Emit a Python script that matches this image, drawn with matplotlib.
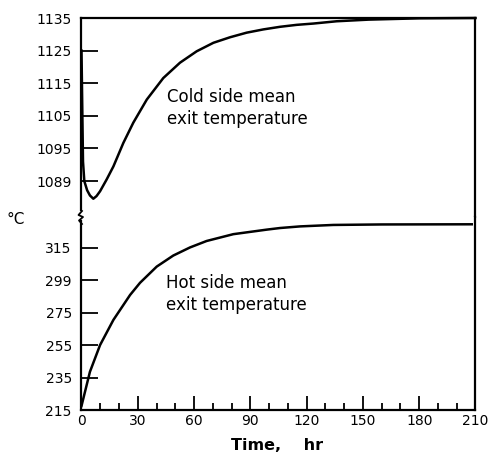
import matplotlib
matplotlib.use("Agg")
import matplotlib.pyplot as plt
from matplotlib.lines import Line2D

# ---- data ----
time_ticks = [0, 30, 60, 90, 120, 150, 180, 210]
time_minor = [10, 20, 40, 50, 70, 80, 100, 110, 130, 140, 160, 170, 190, 200]

upper_ticks = [1085, 1095, 1105, 1115, 1125, 1135]
upper_labels = ["1089", "1095", "1105", "1115", "1125", "1135"]
lower_ticks = [215, 235, 255, 275, 295, 315]
lower_labels = ["215", "235", "255", "275", "299", "315"]

cold_t = [0, 0.4, 0.8, 1.5, 3, 4.5, 6.3, 8, 9.9, 13.4, 17, 22.3, 27.6, 34.8,
          43.6, 52.5, 61.4, 70.3, 79.2, 88, 96.9, 105.8, 114.7, 123.6, 136,
          153, 180, 210]
cold_T = [1125, 1108, 1091, 1085, 1082.2, 1080.6, 1079.6, 1080.4, 1081.9,
          1085.5, 1089.5, 1096.7, 1102.9, 1110.0, 1116.6, 1121.3, 1124.8,
          1127.4, 1129.1, 1130.5, 1131.5, 1132.3, 1132.9, 1133.3, 1134.0,
          1134.5, 1134.9, 1135.0]

hot_t = [0, 1.0, 4.5, 9.9, 17, 25.9, 31.2, 40.1, 48.9, 57.8, 66.7, 80.9,
         98.7, 105.8, 116.5, 134.2, 160, 208]
hot_T = [217.5, 222.2, 238.6, 255.1, 270.6, 286.0, 293.5, 303.5, 310.3,
         315.3, 319.3, 323.5, 326.3, 327.3, 328.3, 329.2, 329.5, 329.6]

cold_label = "Cold side mean\nexit temperature"
hot_label = "Hot side mean\nexit temperature"

# ---- figure ----
W, H = 489, 459
fig = plt.figure(figsize=(W / 100, H / 100), dpi=100)

def fx(px):
    return px / W

def fy(py):
    return 1 - py / H

left, right = 81.5, 475.5
top, brk, bottom = 18, 217, 410

ax_up = fig.add_axes([fx(left), fy(brk), fx(right - left), (brk - top) / H])
ax_lo = fig.add_axes([fx(left), fy(bottom), fx(right - left), (bottom - brk) / H])

lw_spine = 1.6
for ax in (ax_up, ax_lo):
    ax.set_xlim(0, 210)
    for s in ax.spines.values():
        s.set_linewidth(lw_spine)
    ax.tick_params(axis="y", direction="in", length=12.5, width=1.3,
                   pad=7, labelsize=10)

ax_up.set_ylim(1074.0, 1135.0)
ax_lo.set_ylim(215, 334.1)

ax_up.spines["bottom"].set_visible(False)
ax_lo.spines["top"].set_visible(False)
ax_up.spines["left"].set_bounds(1076.0, 1135.0)
ax_lo.spines["left"].set_bounds(215, 331.5)

ax_up.set_xticks([])
ax_up.set_yticks(upper_ticks)
ax_up.set_yticklabels(upper_labels)
ax_lo.set_yticks(lower_ticks)
ax_lo.set_yticklabels(lower_labels)

ax_lo.set_xticks(time_ticks)
ax_lo.set_xticklabels([str(v) for v in time_ticks])
ax_lo.set_xticks(time_minor, minor=True)
ax_lo.tick_params(axis="x", which="major", direction="in", length=10,
                  width=1.3, pad=3, labelsize=10)
ax_lo.tick_params(axis="x", which="minor", direction="in", length=5,
                  width=1.3)

ax_up.plot(cold_t, cold_T, color="black", lw=1.8, clip_on=False,
           solid_joinstyle="round")
ax_lo.plot(hot_t, hot_T, color="black", lw=1.8, clip_on=False,
           solid_joinstyle="round")

ax_up.text(45.5, 1107.5, cold_label, fontsize=12, va="center", ha="left",
           linespacing=1.3)
ax_lo.text(45, 286.6, hot_label, fontsize=12, va="center", ha="left",
           linespacing=1.3)

# break mark on left spine
zx = [fx(82), fx(78.5), fx(83), fx(79), fx(82)]
zy = [fy(211), fy(215), fy(217), fy(220.5), fy(224)]
fig.add_artist(Line2D(zx, zy, color="black", lw=1.3))

fig.text(fx(16), fy(219), "°C", fontsize=11, ha="center", va="center")
fig.text(fx(277), fy(446), "Time,    hr", fontsize=11.5, fontweight="bold",
         ha="center", va="center")

fig.savefig("out.png", dpi=100)
